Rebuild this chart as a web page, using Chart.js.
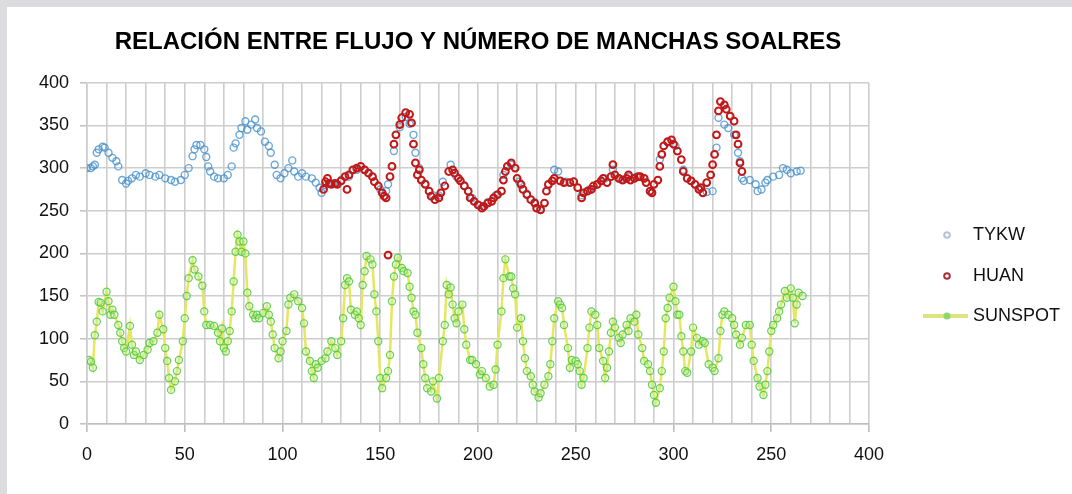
<!DOCTYPE html>
<html>
<head>
<meta charset="utf-8">
<script src="https://cdn.jsdelivr.net/npm/chart.js@4.4.1/dist/chart.umd.min.js"></script>
<style>
  body { margin: 0; background: #dcdcde; }
  #wrap { position: absolute; left: 7px; top: 7px; width: 1065px; height: 487px; background: #fff; }
</style>
</head>
<body>
<div id="wrap"><canvas id="chart" width="1065" height="487"></canvas></div>
<script>
const titleText = 'RELACIÓN ENTRE FLUJO Y NÚMERO DE MANCHAS SOALRES';
const xTickLabels = ['0', '50', '100', '150', '200', '250', '300', '250', '400'];
const seriesNames = ['TYKW', 'HUAN', 'SUNSPOT'];

// TYKW (flujo)
const tykwX = [0,2,3,4,5,6,8,9,11,13,15,16,18,20,21,23,25,27,30,32,35,37,40,43,45,48,50,52,54,55,56,58,60,61,62,63,65,67,70,72,74,75,76,78,79,81,82,84,86,87,89,91,93,94,96,97,99,101,103,105,106,108,110,112,115,117,119,120,
  122,126,130,134,138,142,146,150,153,154,157,160,163,165,167,168,170,173,177,180,182,186,189,193,197,201,205,209,213,217,221,225,229,232,236,239,241,245,249,253,257,261,265,269,273,277,281,285,289,293,297,301,305,309,313,317,320,
  322,323,326,328,331,333,334,335,336,339,342,343,345,347,348,351,354,356,358,360,363,365];
const tykwY = [300,300,302,304,318,322,325,324,318,312,308,302,286,282,285,288,292,290,294,292,290,292,288,286,284,286,292,300,314,322,327,327,322,313,302,296,290,288,288,292,302,324,329,339,347,355,345,351,357,347,343,331,326,318,304,292,288,294,300,309,296,290,294,290,288,283,277,271,
  280,282,286,290,298,298,290,275,273,281,320,348,360,352,339,318,300,282,268,268,284,304,290,280,265,256,260,268,292,304,284,270,260,252,280,298,296,284,284,268,275,281,288,298,287,290,290,288,272,310,330,326,298,285,276,272,273,
  324,359,351,347,339,318,308,288,285,286,281,273,275,283,286,290,292,300,298,294,296,297];

// HUAN (flujo)
const huanX = [121,122,123,124,125,127,128,130,132,133,134,136,138,140,142,144,146,147,149,151,152,153,154,155,156,157,158,160,161,163,165,166,167,168,169,170,171,173,175,176,178,180,181,183,185,187,188,190,191,193,195,196,198,200,202,203,205,207,208,210,212,213,214,215,217,219,220,222,223,225,227,229,230,232,234,235,236,238,239,242,244,247,249,251,253,254,256,258,259,261,263,264,266,268,269,270,272,274,276,277,278,280,282,283,285,286,288,289,290,292,293,294,295,297,299,300,302,304,305,307,309,311,313,314,315,317,319,320,321,322,323,324,326,327,329,331,332,333,334,335];
const huanY = [275,284,288,282,281,282,281,285,290,275,292,298,300,302,298,294,290,284,279,271,267,265,198,290,302,328,339,351,359,365,363,353,328,306,292,298,286,281,273,267,263,265,271,279,296,298,294,288,285,279,273,265,261,257,253,255,259,261,265,269,273,286,296,302,306,300,288,281,275,269,263,259,253,251,259,273,281,285,288,285,283,283,284,277,265,271,273,275,279,281,285,288,283,290,304,292,288,286,288,292,286,288,290,290,288,283,273,271,281,286,302,316,326,331,333,328,320,310,296,288,285,281,275,277,271,283,292,304,316,339,367,378,374,369,361,355,339,328,306,296];

// SUNSPOT (número de manchas)
const sunX = [1,2,3,4,5,6,7,8,10,11,12,13,14,16,17,18,19,20,22,23,24,25,27,29,31,32,34,36,37,39,40,41,42,43,45,46,47,49,50,51,52,54,55,57,59,60,61,63,65,67,68,69,70,71,72,73,74,75,76,77,78,79,80,81,82,83,85,86,87,88,90,92,93,94,95,96,98,99,100,102,103,104,106,108,110,111,112,114,115,116,117,118,120,122,123,125,127,128,130,131,132,133,134,135,137,138,139,140,141,142,143,145,146,147,148,149,150,151,153,154,155,156,157,158,159,161,162,164,165,166,167,168,169,171,172,173,174,176,177,179,180,182,183,184,185,186,187,188,189,190,192,193,194,196,197,199,201,202,204,206,208,209,210,212,213,214,216,217,218,219,220,222,223,224,225,227,228,229,231,232,234,236,237,238,239,241,242,243,244,246,247,248,250,251,252,253,254,256,257,258,260,261,262,264,265,266,267,268,269,270,272,273,274,276,277,278,280,281,282,284,285,287,288,289,290,291,293,294,295,296,297,298,300,301,302,303,304,305,306,307,309,310,312,313,315,316,318,320,321,323,324,325,326,328,330,331,332,334,335,337,339,340,341,343,344,346,347,348,349,350,351,353,354,355,357,358,360,361,362,363,364,366];
const sunY = [75,73,66,104,120,143,142,132,155,144,128,134,128,116,107,97,89,85,115,93,81,85,75,81,87,95,97,107,128,111,89,74,54,40,50,62,75,97,124,150,171,192,181,173,162,132,116,116,115,107,97,112,89,85,97,109,132,167,202,222,214,202,214,200,154,138,128,124,128,124,130,138,128,120,105,89,77,85,97,109,140,148,152,144,136,118,85,74,62,54,70,66,74,77,85,97,89,81,97,124,163,171,167,134,128,132,124,116,163,179,197,193,187,152,132,97,54,42,54,62,81,144,173,187,195,183,179,177,161,148,132,128,107,89,70,54,42,38,50,30,54,97,116,163,152,160,140,124,118,132,140,111,93,75,75,70,58,62,54,44,46,64,93,132,171,193,173,173,159,152,113,124,97,77,62,56,46,38,31,36,46,56,70,97,124,144,140,136,116,89,66,75,74,70,62,46,54,89,113,132,128,116,89,74,54,66,85,107,120,113,101,95,105,116,109,124,120,128,105,89,74,70,62,46,34,25,42,62,85,124,136,148,161,144,128,128,103,85,62,60,85,113,101,93,97,95,70,66,62,77,109,128,132,128,124,116,105,93,101,116,116,93,74,54,44,34,46,62,85,109,116,124,132,140,156,148,159,148,118,140,154,150];

const pts = (xs, ys) => xs.map((x, i) => ({ x: x, y: ys[i] }));

const sideLegend = {
  id: 'sideLegend',
  afterDraw(chart) {
    const ctx = chart.ctx;
    const ys = [228, 269, 309];
    ctx.save();
    ctx.font = '18px "Liberation Sans", Arial, sans-serif';
    ctx.textBaseline = 'middle';
    ctx.fillStyle = '#111';
    chart.data.datasets.forEach((ds, i) => {
      const y = ys[i];
      if (i === 2) {
        ctx.strokeStyle = '#dfe37e';
        ctx.lineWidth = 4;
        ctx.beginPath(); ctx.moveTo(916, y); ctx.lineTo(961, y); ctx.stroke();
        ctx.fillStyle = '#8ed66a';
        ctx.beginPath(); ctx.arc(940, y, 3.5, 0, Math.PI * 2); ctx.fill();
        ctx.fillStyle = '#111';
      } else {
        ctx.strokeStyle = i === 0 ? '#b2c4da' : '#a8303c';
        ctx.lineWidth = 2;
        ctx.beginPath(); ctx.arc(940, y, 2.8, 0, Math.PI * 2); ctx.stroke();
      }
      ctx.fillText(ds.label, 966, y);
    });
    ctx.restore();
  }
};

new Chart(document.getElementById('chart'), {
  type: 'scatter',
  data: {
    datasets: [{
      label: seriesNames[0],
      data: pts(tykwX, tykwY),
      borderColor: 'rgba(70,145,205,0.8)',
      backgroundColor: 'rgba(255,255,255,0)',
      pointRadius: 3.5,
      pointBorderWidth: 1.4,
      order: 3
    }, {
      label: seriesNames[1],
      data: pts(huanX, huanY),
      borderColor: '#c21818',
      backgroundColor: 'rgba(255,255,255,0)',
      pointRadius: 3.4,
      pointBorderWidth: 2,
      order: 2
    }, {
      label: seriesNames[2],
      data: pts(sunX, sunY),
      showLine: true,
      borderColor: '#e6e660',
      borderWidth: 2.5,
      pointBorderColor: 'rgba(80,200,60,0.85)',
      pointBackgroundColor: 'rgba(190,240,170,0.35)',
      pointRadius: 3.6,
      pointBorderWidth: 1.2,
      order: 1
    }]
  },
  options: {
    responsive: false,
    animation: false,
    devicePixelRatio: 1,
    layout: { padding: { left: 0, right: 203, top: 0, bottom: 0 } },
    plugins: {
      legend: { display: false },
      tooltip: { enabled: false },
      title: {
        display: true,
        text: titleText,
        fullSize: false,
        color: '#000',
        font: { family: '"Liberation Sans", Arial, sans-serif', size: 24, weight: 'bold' },
        padding: { top: 21, bottom: 26 }
      }
    },
    scales: {
      x: {
        type: 'linear',
        min: 0,
        max: 400,
        afterFit: s => { s.height = 70; },
        ticks: {
          stepSize: 10,
          autoSkip: false,
          maxRotation: 0,
          padding: 12,
          color: '#111',
          font: { family: '"Liberation Sans", Arial, sans-serif', size: 18 },
          callback: v => (v % 50 === 0 ? xTickLabels[v / 50] : '')
        },
        grid: {
          color: '#cdcdcd',
          lineWidth: 1.6,
          tickLength: 8,
          tickColor: c => (c.tick && c.tick.value % 50 === 0 ? '#bdbdbd' : 'rgba(0,0,0,0)')
        },
        border: { color: '#bdbdbd', width: 1.6 }
      },
      y: {
        min: 0,
        max: 400,
        afterFit: s => { s.width = 80; },
        ticks: {
          stepSize: 50,
          padding: 11,
          color: '#111',
          font: { family: '"Liberation Sans", Arial, sans-serif', size: 18 }
        },
        grid: { color: '#cdcdcd', lineWidth: 1.6, tickLength: 7, tickColor: '#c4c4c4' },
        border: { color: '#cdcdcd', width: 1.6 }
      }
    }
  },
  plugins: [sideLegend]
});
</script>
</body>
</html>
